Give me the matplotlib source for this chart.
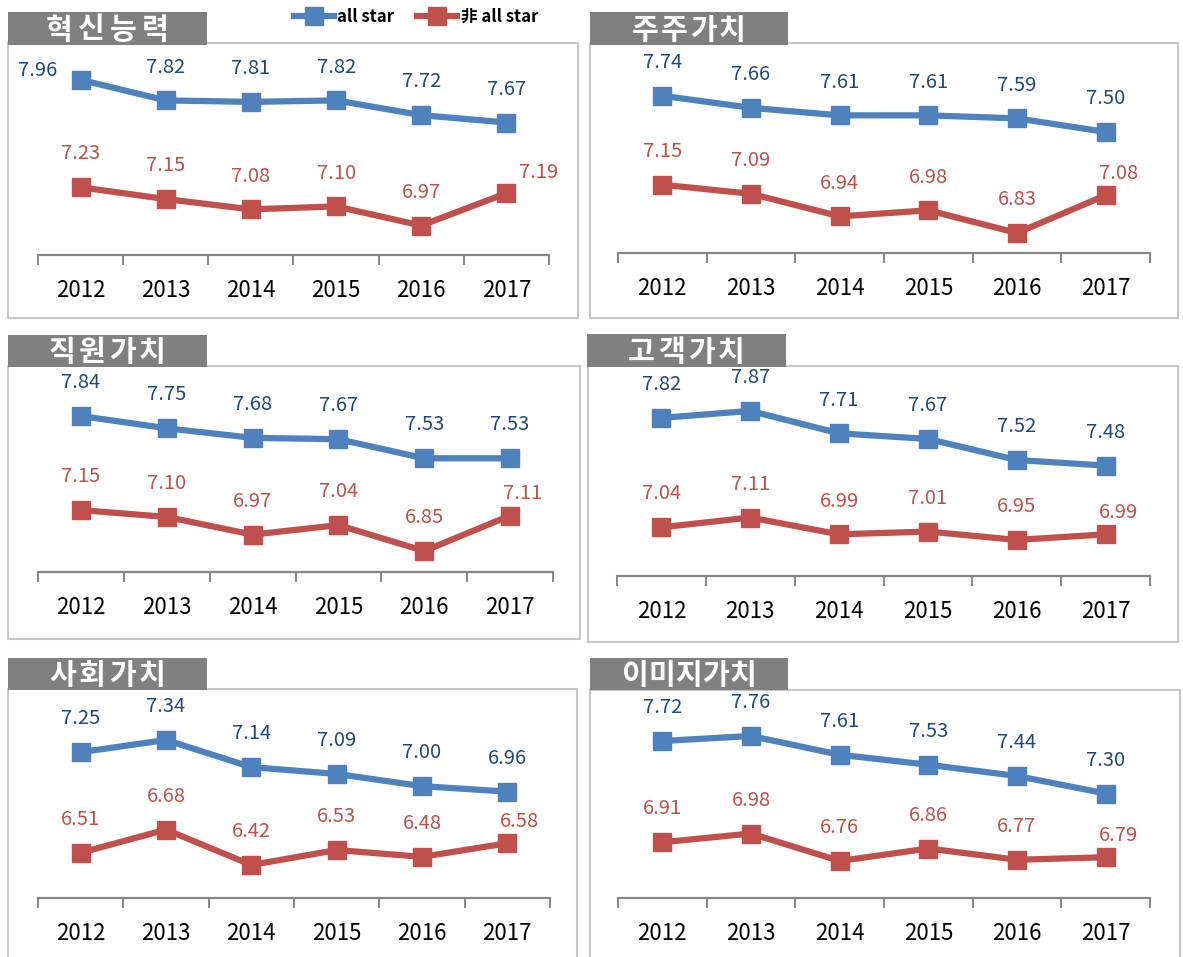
import matplotlib
matplotlib.use('Agg')
import matplotlib.pyplot as plt
from matplotlib.patches import Rectangle

plt.rcParams['font.family'] = ['Noto Sans CJK KR', 'DejaVu Sans']

# 데이터
years = ['2012', '2013', '2014', '2015', '2016', '2017']
titles = ['혁신능력', '주주가치', '직원가치', '고객가치', '사회가치', '이미지가치']
series_names = ['all star', '非 all star']

innov_all = [7.96, 7.82, 7.81, 7.82, 7.72, 7.67]
innov_non = [7.23, 7.15, 7.08, 7.10, 6.97, 7.19]
share_all = [7.74, 7.66, 7.61, 7.61, 7.59, 7.50]
share_non = [7.15, 7.09, 6.94, 6.98, 6.83, 7.08]
staff_all = [7.84, 7.75, 7.68, 7.67, 7.53, 7.53]
staff_non = [7.15, 7.10, 6.97, 7.04, 6.85, 7.11]
cust_all = [7.82, 7.87, 7.71, 7.67, 7.52, 7.48]
cust_non = [7.04, 7.11, 6.99, 7.01, 6.95, 6.99]
social_all = [7.25, 7.34, 7.14, 7.09, 7.00, 6.96]
social_non = [6.51, 6.68, 6.42, 6.53, 6.48, 6.58]
image_all = [7.72, 7.76, 7.61, 7.53, 7.44, 7.30]
image_non = [6.91, 6.98, 6.76, 6.86, 6.77, 6.79]

all_scores = [innov_all, share_all, staff_all, cust_all, social_all, image_all]
non_scores = [innov_non, share_non, staff_non, cust_non, social_non, image_non]

# 레이아웃 (픽셀 단위)
W, H = 1183, 957
boxes = [(8, 43, 578, 318), (590, 43, 1178, 318),
         (8, 366, 580, 639), (588, 366, 1178, 642),
         (8, 689, 577, 975), (590, 690, 1180, 975)]
tabs = [(8, 12, 207, 45), (590, 12, 788, 45),
        (8, 335, 207, 367), (587, 334, 786, 367),
        (8, 658, 207, 690), (590, 658, 788, 690)]
axis_x = [(38, 549), (618, 1150), (38, 553), (617, 1150), (38, 550), (618, 1150)]
axis_y = [255, 253, 572, 576, 898, 898]
ylims = [(6.77, 8.21), (6.697, 8.09), (6.696, 8.207),
         (6.693, 8.19), (6.177, 7.715), (6.464, 8.128)]
tab_step = [32, 29, 30, 30, 30, 27]   # 글자 간격(px)

colors = {'all': '#4F81BD', 'non': '#C0504D',
          'all_lbl': '#1F497D', 'non_lbl': '#C0504D',
          'tab': '#808080', 'box': '#C8C8C8', 'axis': '#878787'}

# 라벨 위치 조정 (points)
default_off = (0, 24)
special_off = {(0, 'all', 0): (-31, 7), (0, 'non', 5): (23, 15)}
for p in range(1, 6):
    special_off[(p, 'non', 5)] = (9, 16)

fig = plt.figure(figsize=(W / 100, H / 100), dpi=100)
fig.patch.set_facecolor('white')


def fx(x):
    return x / W


def fy(y):
    return 1 - y / H


lines = None
for i in range(6):
    bx0, by0, bx1, by1 = boxes[i]
    fig.add_artist(Rectangle((fx(bx0), fy(by1)), fx(bx1) - fx(bx0), fy(by0) - fy(by1),
                             transform=fig.transFigure, facecolor='white',
                             edgecolor=colors['box'], linewidth=1.5, zorder=0))

    ax0, ax1 = axis_x[i]
    ay = axis_y[i]
    ax = fig.add_axes([fx(ax0), fy(ay), fx(ax1) - fx(ax0), fy(by0) - fy(ay)])
    ax.patch.set_alpha(0)
    x = list(range(len(years)))
    l1, = ax.plot(x, all_scores[i], color=colors['all'], lw=4.5, marker='s',
                  markersize=13, clip_on=False, zorder=3)
    l2, = ax.plot(x, non_scores[i], color=colors['non'], lw=4.5, marker='s',
                  markersize=13, clip_on=False, zorder=3)
    if lines is None:
        lines = [l1, l2]

    for key, vals, lc in [('all', all_scores[i], colors['all_lbl']),
                          ('non', non_scores[i], colors['non_lbl'])]:
        for j, v in enumerate(vals):
            off = special_off.get((i, key, j), default_off)
            ax.annotate(f'{v:.2f}', (j, v), xytext=off, textcoords='offset points',
                        ha='center', va='center', fontsize=14.5, color=lc,
                        annotation_clip=False)

    ax.set_xlim(-0.5, len(years) - 0.5)
    ax.set_ylim(*ylims[i])
    for s in ['top', 'left', 'right']:
        ax.spines[s].set_visible(False)
    ax.spines['bottom'].set_color(colors['axis'])
    ax.spines['bottom'].set_linewidth(1.6)
    ax.set_yticks([])
    ax.set_xticks([k - 0.5 for k in range(len(years) + 1)])
    ax.set_xticklabels([])
    ax.tick_params(axis='x', which='major', length=7, width=1.4, color=colors['axis'])
    ax.set_xticks(x, minor=True)
    ax.set_xticklabels(years, minor=True)
    ax.tick_params(axis='x', which='minor', length=0, pad=17, labelsize=16,
                   labelcolor='black')

    # 제목 탭
    tx0, ty0, tx1, ty1 = tabs[i]
    fig.add_artist(Rectangle((fx(tx0), fy(ty1)), fx(tx1) - fx(tx0), fy(ty0) - fy(ty1),
                             transform=fig.transFigure, facecolor=colors['tab'],
                             edgecolor='none', zorder=5))
    n = len(titles[i])
    cx = (tx0 + tx1) / 2
    for k, ch in enumerate(titles[i]):
        fig.text(fx(cx + (k - (n - 1) / 2) * tab_step[i]), fy((ty0 + ty1) / 2 + 1), ch,
                 ha='center', va='center', fontsize=21, fontweight='bold',
                 color='white', zorder=6)

fig.legend(lines, series_names, loc='center', bbox_to_anchor=(fx(416), fy(17)),
           ncol=2, frameon=False, handlelength=2.4, columnspacing=1.4,
           handletextpad=0.2, prop={'size': 12, 'weight': 'bold'})

fig.savefig('out.png', dpi=100, facecolor='white')
